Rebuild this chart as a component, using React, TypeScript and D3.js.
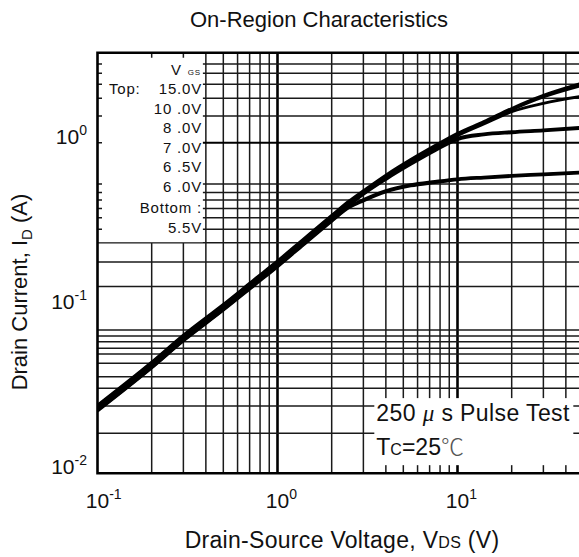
import * as d3 from 'd3';

// drain-source voltage samples (V)
const vds = [0.1, 0.2, 0.3, 0.5, 0.75, 1, 1.4, 2, 2.5, 3, 4, 5.5, 7.5, 10, 14, 20, 30, 48];

// drain current (A)
const id15 = [0.0258, 0.047, 0.0684, 0.105, 0.1498, 0.1924, 0.262, 0.363, 0.444, 0.5115, 0.636, 0.79, 0.96, 1.14, 1.34, 1.61, 1.93, 2.27];
const id10 = [0.0254, 0.0463, 0.0674, 0.1035, 0.1476, 0.1896, 0.2583, 0.3577, 0.4377, 0.504, 0.626, 0.778, 0.945, 1.12, 1.32, 1.585, 1.895, 2.21];
const id8 = [0.025, 0.0457, 0.0665, 0.102, 0.1454, 0.1869, 0.2545, 0.3525, 0.431, 0.499, 0.62, 0.77, 0.935, 1.105, 1.3, 1.54, 1.73, 1.9];
const id7 = [0.0246, 0.0447, 0.0651, 0.1, 0.1425, 0.1832, 0.2495, 0.3455, 0.422, 0.492, 0.61, 0.755, 0.91, 1.06, 1.13, 1.165, 1.195, 1.235];
const id65 = [0.0243, 0.0443, 0.0645, 0.099, 0.1411, 0.1813, 0.247, 0.342, 0.418, 0.487, 0.6, 0.74, 0.895, 1.045, 1.115, 1.15, 1.18, 1.22];
const id6 = [0.0241, 0.0438, 0.0638, 0.098, 0.1397, 0.1795, 0.2444, 0.3385, 0.412, 0.452, 0.512, 0.556, 0.582, 0.604, 0.619, 0.633, 0.647, 0.664];
const id55 = [0.0238, 0.0434, 0.0632, 0.097, 0.1382, 0.1776, 0.2419, 0.335, 0.405, 0.445, 0.505, 0.548, 0.574, 0.597, 0.612, 0.626, 0.64, 0.657];
const curves = [id15, id10, id8, id7, id65, id6, id55];

const vgsLabels = ['15.0V', '10 .0V', '8 .0V', '7 .0V', '6 .5V', '6 .0V', '5.5V'];

// grid
const xMajor = [1, 10];
const xGrid = [0.2, 0.3, 0.4, 0.5, 0.6, 0.7, 0.8, 0.9, 2, 3, 4, 5, 6, 7, 8, 9, 20, 30, 40];
const xTicks = [0.1, 1, 10];
const xExp = ['-1', '0', '1'];
const yMajor = [1];
// horizontal grid as drawn on the original sheet (not evenly spaced)
const yGrid = [0.0175, 0.0255, 0.0327, 0.0384, 0.0463, 0.0527, 0.057, 0.0625, 0.0677, 0.0736, 0.135, 0.19, 0.248, 0.3, 0.352, 0.4, 0.45, 0.5, 0.563, 1.45, 1.856, 2.256, 2.63, 2.99];
const yTicks = [0.01, 0.1, 1];
const yExp = ['-2', '-1', '0'];

const W = 579;
const H = 557;
const FONT = '"Liberation Sans", Arial, sans-serif';

export default function App() {
  const x = d3.scaleLog().domain([0.1, 10]).range([97.5, 457.5]);
  const y = d3.scaleLog().domain([0.01, 1]).range([473.3, 142.7]);
  const left = x(0.1);
  const right = x(50);
  const bottom = y(0.01);
  const top = y(3.5);

  const line = d3
    .line<number>()
    .x((d, i) => x(vds[i]))
    .y((d) => y(d))
    .curve(d3.curveMonotoneX);

  // legend box (upper left) and note box (lower right)
  const lgRight = x(0.385);
  const lgBottom = y(0.25);
  const nb = { x0: x(3.45), x1: x(44), y0: y(0.0285), y1: y(0.0112) };

  const gridColor = '#1a1a1a';

  return (
    <svg width={W} height={H} style={{ position: 'absolute', left: 0, top: 0, background: '#fff' }} fontFamily={FONT}>
      <defs>
        <clipPath id='plot'>
          <rect x={left} y={top} width={right - left} height={bottom - top} />
        </clipPath>
      </defs>
      <text x={319} y={27} textAnchor='middle' fontSize={22} fill='#111'>
        On-Region Characteristics
      </text>

      <g clipPath='url(#plot)'>
        {xGrid.map((v) => (
          <line key={'xg' + v} x1={x(v)} x2={x(v)} y1={top} y2={bottom} stroke={gridColor} strokeWidth={1.5} />
        ))}
        {xMajor.map((v) => (
          <line key={'xm' + v} x1={x(v)} x2={x(v)} y1={top} y2={bottom} stroke='#000' strokeWidth={2.6} />
        ))}
        {yGrid.map((v) => (
          <line key={'yg' + v} x1={left} x2={right} y1={y(v)} y2={y(v)} stroke={gridColor} strokeWidth={1.5} />
        ))}
        {yMajor.map((v) => (
          <line key={'ym' + v} x1={left} x2={right} y1={y(v)} y2={y(v)} stroke='#000' strokeWidth={2} />
        ))}

        {/* white boxes behind legend and note */}
        <rect x={left} y={top} width={lgRight - left} height={lgBottom - top} fill='#fff' />
        <rect x={nb.x0} y={nb.y0} width={nb.x1 - nb.x0} height={nb.y1 - nb.y0} fill='#fff' />

        {/* short ticks inside legend box */}
        {yGrid.concat(yMajor).filter((v) => y(v) < lgBottom).map((v) => (
          <line key={'lt' + v} x1={left} x2={left + 4.5} y1={y(v)} y2={y(v)} stroke={gridColor} strokeWidth={1.5} />
        ))}
        {xGrid.filter((v) => x(v) < lgRight).map((v) => (
          <line key={'tt' + v} x1={x(v)} x2={x(v)} y1={top} y2={top + 5} stroke={gridColor} strokeWidth={1.5} />
        ))}

        {curves.map((c, i) => (
          <path key={'c' + i} d={line(c) || ''} fill='none' stroke='#000' strokeWidth={3} strokeLinejoin='round' />
        ))}
      </g>

      {/* frame: left, bottom, top */}
      <path d={`M${right},${top}H${left}V${bottom}H${right}`} fill='none' stroke='#000' strokeWidth={2.6} />

      {/* legend */}
      <g fontSize={15} fill='#111' letterSpacing={0.8}>
        <text x={201} y={75} textAnchor='end'>
          V<tspan fontSize={8} dx={6}>GS</tspan>
        </text>
        <text x={109} y={94.3}>Top:</text>
        {vgsLabels.map((t, i) => (
          <text key={t} x={202} y={[94.3, 114, 133.3, 152.7, 171.9, 191.7, 233.3][i]} textAnchor='end'>
            {t}
          </text>
        ))}
        <text x={202} y={213.3} textAnchor='end'>Bottom :</text>
      </g>

      {/* note */}
      <g fontSize={23} fill='#111'>
        <text x={nb.x0 + 2} y={421} letterSpacing={0.4}>
          250 <tspan fontFamily='"Liberation Serif", serif' fontStyle='italic'>μ</tspan> s Pulse Test
        </text>
        <text x={nb.x0 + 2} y={455}>
          T<tspan fontSize={16}>C</tspan>=25<tspan fontFamily='"Noto Sans CJK SC", "DejaVu Sans"' fontWeight={300} fill='#555'>℃</tspan>
        </text>
      </g>

      {/* tick labels */}
      <g fontSize={21} fill='#111'>
        {xTicks.map((v, i) => (
          <text key={'xl' + v} x={x(v) - 11.7} y={508}>
            10<tspan fontSize={14} dy={-9}>{xExp[i]}</tspan>
          </text>
        ))}
        {yTicks.map((v, i) => (
          <text key={'yl' + v} x={87} y={y(v) + 1} textAnchor='end'>
            10<tspan fontSize={14} dy={-9}>{yExp[i]}</tspan>
          </text>
        ))}
      </g>

      {/* axis titles */}
      <text x={342} y={548} textAnchor='middle' fontSize={23} letterSpacing={0.3} fill='#111'>
        Drain-Source Voltage, V<tspan fontSize={16}>DS</tspan> (V)
      </text>
      <text transform='translate(27,292) rotate(-90)' textAnchor='middle' fontSize={22} fill='#111'>
        Drain Current, I<tspan fontSize={15} dy={5}>D</tspan>
        <tspan dy={-5}> (A)</tspan>
      </text>
    </svg>
  );
}
